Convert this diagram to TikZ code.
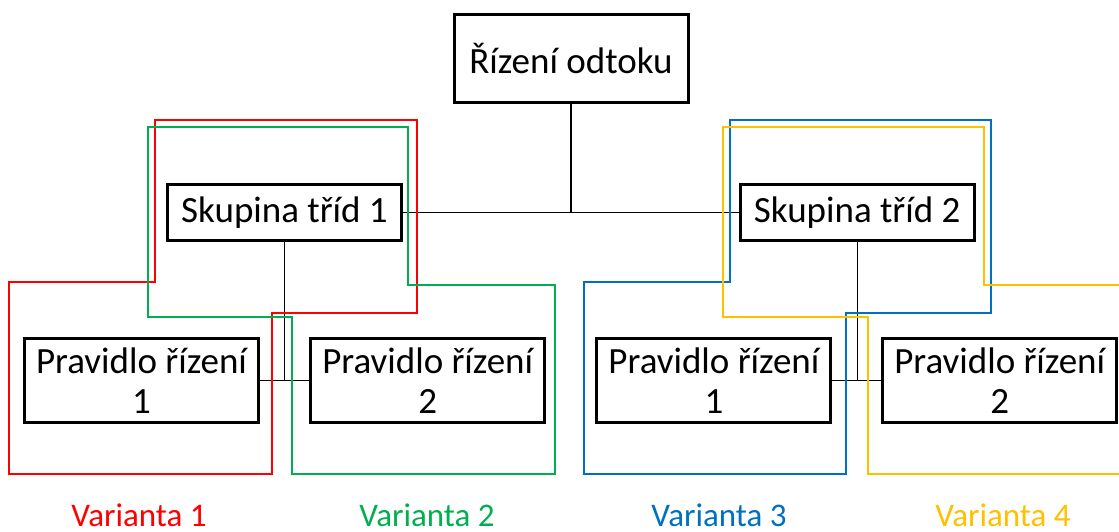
\documentclass[tikz,border=0pt]{standalone}
\usepackage{fontspec}
\setmainfont{Carlito}
\definecolor{vred}{HTML}{FF0000}
\definecolor{vgreen}{HTML}{00B050}
\definecolor{vblue}{HTML}{0070C0}
\definecolor{vyellow}{HTML}{FFC000}
\begin{document}
\begin{tikzpicture}[x=1pt,y=-1pt,
  box/.style={draw=black, line width=3pt, fill=white, inner sep=0pt, align=center,
    font=\fontsize{37}{40}\selectfont, minimum width=234pt},
  conn/.style={draw=black, line width=1.3pt},
  outline/.style={line width=2.6pt, line join=miter},
  vlabel/.style={anchor=base, inner sep=0pt, font=\fontsize{33}{38}\selectfont}]
\useasboundingbox (0,0) rectangle (1119,531);
\clip (0,0) rectangle (1119,531);

\node[box, minimum height=88pt] (root) at (571,58.3) {Řízení odtoku};
\node[box, minimum height=56pt] (s1) at (284.5,212.2) {Skupina tříd 1};
\node[box, minimum height=56pt] (s2) at (857.2,212.2) {Skupina tříd 2};
\node[box, minimum height=84pt] (p1) at (141.5,380.3) {Pravidlo řízení\\1};
\node[box, minimum height=84pt] (p2) at (427.7,380.3) {Pravidlo řízení\\2};
\node[box, minimum height=84pt] (p3) at (713.9,380.3) {Pravidlo řízení\\1};
\node[box, minimum height=84pt] (p4) at (999.7,380.3) {Pravidlo řízení\\2};

% connectors
\draw[conn] (root.south) -- (root.south |- s1.east);
\draw[conn] (s1.east) -- (s2.west);
\draw[conn] (s1.south) -- (s1.south |- p1.east);
\draw[conn] (p1.east) -- (p2.west);
\draw[conn] (s2.south) -- (s2.south |- p3.east);
\draw[conn] (p3.east) -- (p4.west);

% variant outlines
\draw[outline, vred] (9,282) -- (155,282) -- (155,120) -- (417,120) -- (417,313)
  -- (272,313) -- (272,474) -- (9,474) -- cycle;
\draw[outline, vgreen] (148,127) -- (408,127) -- (408,285) -- (555,285) -- (555,474)
  -- (292,474) -- (292,317) -- (148,317) -- cycle;
\draw[outline, vblue] (584,282) -- (730,282) -- (730,120) -- (991,120) -- (991,313)
  -- (846,313) -- (846,474) -- (584,474) -- cycle;
\draw[outline, vyellow] (723,127) -- (984,127) -- (984,285) -- (1131,285) -- (1131,474)
  -- (868,474) -- (868,317) -- (723,317) -- cycle;

% labels
\node[vlabel, text=vred] (l1) at (139,526.5) {Varianta 1};
\node[vlabel, text=vgreen] (l2) at (427,526.5) {Varianta 2};
\node[vlabel, text=vblue] (l3) at (719,526.5) {Varianta 3};
\node[vlabel, text=vyellow] (l4) at (1003,526.5) {Varianta 4};
\end{tikzpicture}
\end{document}
